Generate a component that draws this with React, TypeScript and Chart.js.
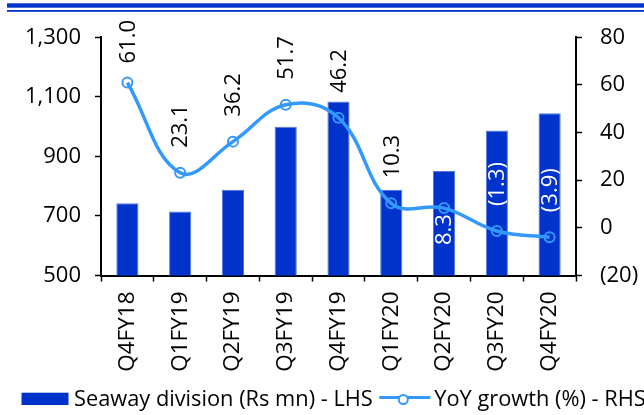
import React, { useEffect, useRef } from 'react';
import { Chart, registerables } from 'chart.js';

Chart.register(...registerables);

const categories = ['Q4FY18', 'Q1FY19', 'Q2FY19', 'Q3FY19', 'Q4FY19', 'Q1FY20', 'Q2FY20', 'Q3FY20', 'Q4FY20'];
const seawayRevenue = [743, 715, 788, 1000, 1084, 788, 851, 987, 1045];
const yoyGrowth = [61.0, 23.1, 36.2, 51.7, 46.2, 10.3, 8.3, -1.3, -3.9];
const leftTicks = [500, 700, 900, 1100, 1300];
const rightTicks = [-20, 0, 20, 40, 60, 80];
const seriesNames = ['Seaway division (Rs mn) - LHS', 'YoY growth (%) - RHS'];

const FONT = '"Open Sans", "Liberation Sans", Arial, sans-serif';
const BAR_COLOR = '#0033cc';
const LINE_COLOR = '#3399ff';
const LABELS_BELOW = [6];

const fmtPct = (v: number) => (v < 0 ? `(${Math.abs(v).toFixed(1)})` : v.toFixed(1));

const decorPlugin = {
  id: 'decor',
  beforeDraw(chart: any) {
    const ctx = chart.ctx;
    ctx.save();
    ctx.fillStyle = '#ffffff';
    ctx.fillRect(0, 0, chart.width, chart.height);
    ctx.fillStyle = BAR_COLOR;
    ctx.fillRect(7, 3.3, chart.width - 7, 4.4);
    ctx.fillRect(7, 10, chart.width - 7, 1.8);
    ctx.restore();
  },
  afterDatasetsDraw(chart: any) {
    const ctx = chart.ctx;
    const lineMeta = chart.getDatasetMeta(0);
    const barMeta = chart.getDatasetMeta(1);
    ctx.save();
    ctx.font = `22px ${FONT}`;
    ctx.textBaseline = 'middle';
    lineMeta.data.forEach((pt: any, i: number) => {
      const text = fmtPct(yoyGrowth[i]);
      const w = ctx.measureText(text).width;
      const below = LABELS_BELOW.includes(i);
      let bottom: number;
      let top: number;
      if (below) {
        top = pt.y + 6;
        bottom = top + w;
      } else {
        bottom = pt.y - 25;
        top = bottom - w;
        if (top < 20) {
          top = 20;
          bottom = top + w;
        }
      }
      const bar = barMeta.data[i];
      const inside = bottom > bar.y && Math.abs(pt.x - bar.x) < 12;
      ctx.fillStyle = inside ? '#ffffff' : '#000000';
      ctx.save();
      ctx.translate(pt.x + 1, bottom);
      ctx.rotate(-Math.PI / 2);
      ctx.textAlign = 'left';
      ctx.fillText(text, 0, 0);
      ctx.restore();
    });
    ctx.restore();
  },
  afterDraw(chart: any) {
    const ctx = chart.ctx;
    ctx.save();
    ctx.font = `21.8px ${FONT}`;
    ctx.textBaseline = 'middle';
    ctx.textAlign = 'left';
    const cy = 400;
    ctx.fillStyle = BAR_COLOR;
    ctx.fillRect(21.5, 392.7, 47, 12.3);
    ctx.fillStyle = '#000000';
    ctx.fillText(seriesNames[0], 74, cy);
    const w1 = ctx.measureText(seriesNames[0]).width;
    const lx = 74 + w1 + 6.5;
    ctx.strokeStyle = LINE_COLOR;
    ctx.lineWidth = 3;
    ctx.beginPath();
    ctx.moveTo(lx, 397.5);
    ctx.lineTo(lx + 51, 397.5);
    ctx.stroke();
    ctx.lineWidth = 2;
    ctx.fillStyle = '#ffffff';
    ctx.beginPath();
    ctx.arc(lx + 24, 399.5, 4.5, 0, Math.PI * 2);
    ctx.fill();
    ctx.stroke();
    ctx.fillStyle = '#000000';
    ctx.fillText(seriesNames[1], lx + 55, cy);
    ctx.restore();
  },
};

export default function App() {
  const ref = useRef<HTMLCanvasElement | null>(null);
  useEffect(() => {
    if (!ref.current) return;
    const chart = new Chart(ref.current, {
      type: 'bar',
      data: {
        labels: categories,
        datasets: [
          {
            type: 'line',
            label: seriesNames[1],
            data: yoyGrowth,
            yAxisID: 'yRight',
            borderColor: LINE_COLOR,
            borderWidth: 3.5,
            tension: 0.4,
            pointRadius: 5,
            pointBorderWidth: 2,
            pointBorderColor: LINE_COLOR,
            pointBackgroundColor: 'rgba(0,0,0,0)',
            fill: false,
            order: 0,
          } as any,
          {
            type: 'bar',
            label: seriesNames[0],
            data: seawayRevenue,
            yAxisID: 'yLeft',
            backgroundColor: BAR_COLOR,
            borderColor: '#5577e0',
            borderWidth: 1,
            categoryPercentage: 1,
            barPercentage: 0.42,
            order: 1,
          } as any,
        ],
      },
      options: {
        responsive: false,
        animation: false,
        devicePixelRatio: 1,
        layout: { padding: { top: 37.3, left: 0, right: 0, bottom: 0 } },
        plugins: { legend: { display: false }, tooltip: { enabled: false } },
        scales: {
          x: {
            offset: true,
            grid: {
              display: true,
              offset: true,
              drawOnChartArea: false,
              drawTicks: true,
              tickLength: 6,
              tickColor: '#000',
              tickWidth: 1.5,
            },
            border: { display: true, color: '#000', width: 2 },
            ticks: {
              color: '#000',
              font: { family: FONT, size: 22.5 },
              minRotation: 90,
              maxRotation: 90,
              padding: 10,
              autoSkip: false,
            },
            afterFit(scale: any) {
              scale.height = 139.5;
            },
          },
          yLeft: {
            type: 'linear',
            position: 'left',
            min: leftTicks[0],
            max: leftTicks[leftTicks.length - 1],
            afterBuildTicks(scale: any) {
              scale.ticks = leftTicks.map((v) => ({ value: v }));
            },
            grid: { drawOnChartArea: false, drawTicks: true, tickLength: 6, tickColor: '#000', tickWidth: 1.5 },
            border: { display: true, color: '#000', width: 2 },
            ticks: {
              color: '#000',
              font: { family: FONT, size: 22 },
              padding: 14,
              callback: (v: any) => Number(v).toLocaleString('en-US'),
            },
            afterFit(scale: any) {
              scale.width = 101;
            },
          },
          yRight: {
            type: 'linear',
            position: 'right',
            min: rightTicks[0],
            max: rightTicks[rightTicks.length - 1],
            afterBuildTicks(scale: any) {
              scale.ticks = rightTicks.map((v) => ({ value: v }));
            },
            grid: { drawOnChartArea: false, drawTicks: true, tickLength: 6, tickColor: '#000', tickWidth: 1.5 },
            border: { display: true, color: '#000', width: 2 },
            ticks: {
              color: '#000',
              font: { family: FONT, size: 22 },
              padding: 18,
              callback: (v: any) => (Number(v) < 0 ? `(${Math.abs(Number(v))})` : `${v}`),
            },
            afterFit(scale: any) {
              scale.width = 68;
            },
          },
        },
      },
      plugins: [decorPlugin],
    });
    return () => chart.destroy();
  }, []);
  return (
    <div style={{ position: 'absolute', left: 0, top: 0, width: 644, height: 415 }}>
      <canvas ref={ref} width={644} height={415} />
    </div>
  );
}
